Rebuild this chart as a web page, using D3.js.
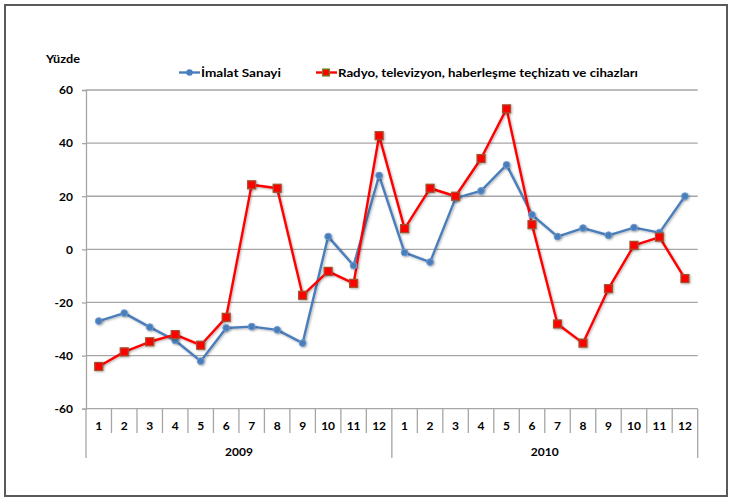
<!DOCTYPE html>
<html>
<head>
<meta charset="utf-8">
<script src="https://cdn.jsdelivr.net/npm/d3@7"></script>
<style>
  body { margin: 0; background: #fff; }
  svg text { font-family: Lato, "Liberation Sans", sans-serif; font-weight: bold; fill: #000; }
</style>
</head>
<body>
<svg id="chart" width="729" height="499"></svg>
<script>
const months = ["1","2","3","4","5","6","7","8","9","10","11","12","1","2","3","4","5","6","7","8","9","10","11","12"];
const years = ["2009", "2010"];
const imalatSanayi = [-27, -24, -29.3, -34.3, -42.1, -29.6, -29.1, -30.3, -35.3, 4.8, -6.1, 27.8,
                      -1.2, -4.8, 19.3, 22.0, 31.8, 13.0, 4.8, 8.0, 5.3, 8.2, 6.3, 20.0];
const radyoTv = [-44.1, -38.6, -34.8, -32.1, -36.1, -25.6, 24.3, 23.0, -17.3, -8.3, -12.8, 42.8,
                 7.8, 23.0, 20.0, 34.2, 52.9, 9.3, -28.1, -35.3, -14.8, 1.5, 4.6, -11.0];
const yTicks = [-60, -40, -20, 0, 20, 40, 60];
const seriesNames = ["İmalat Sanayi", "Radyo, televizyon, haberleşme teçhizatı ve cihazları"];

const svg = d3.select("#chart");
const plotLeft = 86, plotRight = 697.7, plotTop = 90, plotBottom = 408.7;
const fs = "12px";

const x = d3.scaleBand().domain(d3.range(months.length)).range([plotLeft, plotRight]).paddingInner(0).paddingOuter(0);
const y = d3.scaleLinear().domain([-60, 60]).range([plotBottom, plotTop]);
const cx = i => x(i) + x.bandwidth() / 2;

// drop shadow filter
const defs = svg.append("defs");
const f = defs.append("filter").attr("id", "sh").attr("x", "-50%").attr("y", "-50%").attr("width", "200%").attr("height", "200%");
f.append("feDropShadow").attr("dx", 1).attr("dy", 1).attr("stdDeviation", 1).attr("flood-color", "#000").attr("flood-opacity", 0.3);

// outer border
svg.append("rect").attr("x", 5).attr("y", 5).attr("width", 722).attr("height", 491)
  .attr("fill", "none").attr("stroke", "#5a5a5a").attr("stroke-width", 2);

// gridlines
svg.append("g").selectAll("line").data(yTicks.filter(d => d !== -60)).join("line")
  .attr("x1", plotLeft).attr("x2", plotRight).attr("y1", d => y(d)).attr("y2", d => y(d))
  .attr("stroke", "#a6a6a6").attr("stroke-width", 1.3);

// y axis
const yAxis = svg.append("g").attr("transform", `translate(${plotLeft},0)`)
  .call(d3.axisLeft(y).tickValues(yTicks).tickSize(4).tickPadding(9).tickFormat(d => String(d)));
yAxis.select(".domain").attr("stroke", "#a6a6a6").attr("stroke-width", 1.3);
yAxis.selectAll(".tick line").attr("stroke", "#a6a6a6").attr("stroke-width", 1.3);
yAxis.selectAll(".tick text").style("font-size", fs).style("font-family", "Lato, sans-serif").attr("fill", "#000");

// x axis line
svg.append("line").attr("x1", plotLeft).attr("x2", plotRight).attr("y1", y(-60)).attr("y2", y(-60))
  .attr("stroke", "#a6a6a6").attr("stroke-width", 1.3);

// month dividers
const xg = svg.append("g");
xg.selectAll("line.m").data(d3.range(months.length + 1)).join("line").attr("class", "m")
  .attr("x1", i => plotLeft + i * x.step()).attr("x2", i => plotLeft + i * x.step())
  .attr("y1", y(-60)).attr("y2", i => (i % 12 === 0) ? 458 : 433)
  .attr("stroke", "#a6a6a6").attr("stroke-width", 1.3);

xg.selectAll("text.m").data(months).join("text").attr("class", "m")
  .attr("x", (d, i) => cx(i)).attr("y", 430).attr("text-anchor", "middle")
  .style("font-size", fs).text(d => d);

xg.selectAll("text.yr").data(years).join("text").attr("class", "yr")
  .attr("x", (d, i) => plotLeft + (i * 12 + 6) * x.step()).attr("y", 455.5).attr("text-anchor", "middle")
  .style("font-size", fs).text(d => d);

// Yüzde label
svg.append("text").attr("x", 46).attr("y", 63).style("font-size", fs)
  .attr("textLength", 34).attr("lengthAdjust", "spacingAndGlyphs").text("Yüzde");

// lines
const line = d3.line().x((d, i) => cx(i)).y(d => y(d));
svg.append("path").datum(imalatSanayi).attr("d", line).attr("fill", "none")
  .attr("stroke", "#4A7EBB").attr("stroke-width", 2.4).attr("stroke-linejoin", "round").attr("filter", "url(#sh)");
svg.append("path").datum(radyoTv).attr("d", line).attr("fill", "none")
  .attr("stroke", "#FF0000").attr("stroke-width", 2.4).attr("stroke-linejoin", "round").attr("filter", "url(#sh)");

// markers
svg.append("g").selectAll("circle").data(imalatSanayi).join("circle")
  .attr("cx", (d, i) => cx(i)).attr("cy", d => y(d)).attr("r", 3.4)
  .attr("fill", "#4A7EBB").attr("stroke", "#6f9bd1").attr("stroke-width", 1).attr("filter", "url(#sh)");
svg.append("g").selectAll("rect").data(radyoTv).join("rect")
  .attr("x", (d, i) => cx(i) - 4).attr("y", d => y(d) - 4).attr("width", 8).attr("height", 8)
  .attr("fill", "#FF0000").attr("stroke", "#a0522d").attr("stroke-width", 1.2).attr("filter", "url(#sh)");

// legend
const ly = 72.5;
const lg = svg.append("g");
lg.append("line").attr("x1", 179).attr("x2", 200).attr("y1", ly).attr("y2", ly).attr("stroke", "#4A7EBB").attr("stroke-width", 2.4);
lg.append("circle").attr("cx", 189.5).attr("cy", ly).attr("r", 3.2).attr("fill", "#4A7EBB");
lg.append("text").attr("x", 201).attr("y", 77).style("font-size", fs)
  .attr("textLength", 80).attr("lengthAdjust", "spacingAndGlyphs").text(seriesNames[0]);
lg.append("line").attr("x1", 316).attr("x2", 337).attr("y1", ly).attr("y2", ly).attr("stroke", "#FF0000").attr("stroke-width", 2.4);
lg.append("rect").attr("x", 322.5).attr("y", ly - 3.5).attr("width", 7).attr("height", 7).attr("fill", "#FF0000").attr("stroke", "#6b8e23").attr("stroke-width", 1.2);
lg.append("text").attr("x", 338).attr("y", 77).style("font-size", fs)
  .attr("textLength", 300).attr("lengthAdjust", "spacingAndGlyphs").text(seriesNames[1]);
</script>
</body>
</html>
